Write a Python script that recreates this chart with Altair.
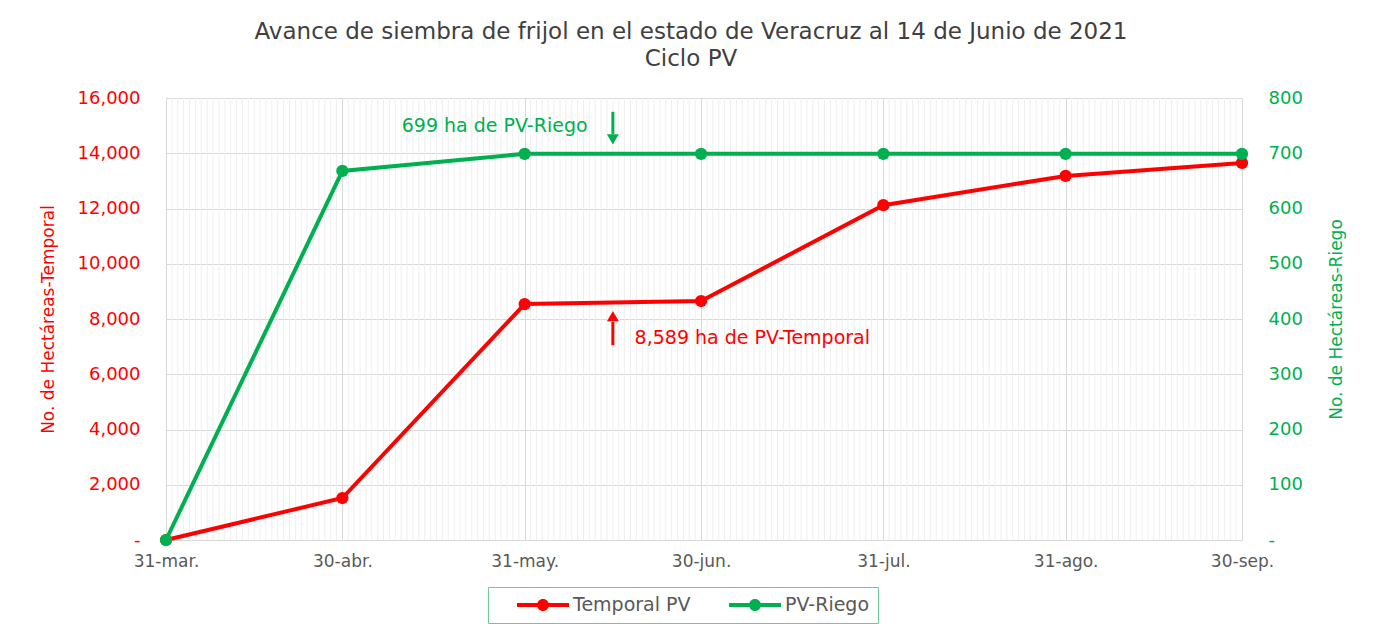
import altair as alt
import pandas as pd

# ---- data ----
fechas = ["2021-03-31", "2021-04-30", "2021-05-31", "2021-06-30",
          "2021-07-31", "2021-08-31", "2021-09-30"]
etiquetas = ["31-mar.", "30-abr.", "31-may.", "30-jun.", "31-jul.", "31-ago.", "30-sep."]
temporal = [0, 1520, 8540, 8650, 12120, 13180, 13650]
riego = [0, 668, 699, 699, 699, 699, 699]
series = ["Temporal PV", "PV-Riego"]
colores = ["#FF0000", "#00B050"]

fecha_flecha = "2021-06-15"
texto_riego = "699 ha de PV-Riego"
texto_temporal = "8,589 ha de PV-Temporal"

FONT = "DejaVu Sans"
GRAY = "#595959"

base = pd.Timestamp(fechas[0])
dias = [(pd.Timestamp(f) - base).days for f in fechas]
flecha = (pd.Timestamp(fecha_flecha) - base).days
todos = [(d - base).days for d in pd.date_range(fechas[0], fechas[-1])]
menores = [d for d in todos if d not in dias]

df_t = pd.DataFrame({"dia": dias, "y": temporal, "serie": series[0]})
df_r = pd.DataFrame({"dia": dias, "y": riego, "serie": series[1]})
df_grid = pd.DataFrame({"dia": menores})

lab_expr = "[" + ",".join(f"'{e}'" for e in etiquetas) + "][indexof([" + ",".join(str(d) for d in dias) + "], datum.value)]"

x_scale = alt.Scale(domain=[dias[0], dias[-1]], nice=False, zero=False)
x_axis = alt.Axis(values=dias, labelExpr=lab_expr, title=None, grid=True,
                  gridColor="#D9D9D9", domainColor="#D9D9D9", ticks=False,
                  labelFont=FONT, labelFontSize=17, labelColor=GRAY,
                  labelPadding=13, labelFlush=False, labelOverlap=False)

left_axis = alt.Axis(values=list(range(0, 16001, 2000)),
                     labelExpr="datum.value == 0 ? '-' : format(datum.value, ',')",
                     title="No. de Hectáreas-Temporal", titleColor="#FF0000",
                     titleFont=FONT, titleFontSize=17, titleFontWeight="normal",
                     titleAngle=270, titleBaseline="middle", titleAlign="center",
                     titleX=-118, titleY=221,
                     labelColor="#FF0000", labelFont=FONT, labelFontSize=18,
                     labelPadding=26, ticks=False, domain=False,
                     grid=True, gridColor="#D9D9D9")
right_axis = alt.Axis(values=list(range(0, 801, 100)),
                      labelExpr="datum.value == 0 ? '-' : format(datum.value, ',')",
                      title="No. de Hectáreas-Riego", titleColor="#00B050",
                      titleFont=FONT, titleFontSize=17, titleFontWeight="normal",
                      titleAngle=270, titleBaseline="middle", titleAlign="center",
                      titleX=94, titleY=221,
                      labelColor="#00B050", labelFont=FONT, labelFontSize=18,
                      labelPadding=26, ticks=False, domain=False, grid=False,
                      orient="right")
left_scale = alt.Scale(domain=[0, 16000], nice=False)
right_scale = alt.Scale(domain=[0, 800], nice=False)


def X(field="dia"):
    return alt.X(f"{field}:Q", scale=x_scale, axis=x_axis)


def YL(field="y"):
    return alt.Y(f"{field}:Q", scale=left_scale, axis=left_axis)


def YR(field="y"):
    return alt.Y(f"{field}:Q", scale=right_scale, axis=right_axis)


legend = alt.Legend(
    title=None, orient="none", legendX=322, legendY=489, direction="horizontal",
    strokeColor="#6FCB98", padding=8, labelFont=FONT, labelFontSize=19,
    labelColor=GRAY, columnPadding=17, labelOffset=20, symbolOffset=37,
    symbolType="M-2.6,-0.2L2.6,-0.2L2.6,0.2L-2.6,0.2Z M0.6,0A0.6,0.6 0 1,1 -0.6,0A0.6,0.6 0 1,1 0.6,0Z",
    symbolSize=400, symbolStrokeWidth=0, symbolOpacity=1)
color_enc = alt.Color("serie:N", scale=alt.Scale(domain=series, range=colores), legend=legend)

grid = alt.Chart(df_grid).mark_rule(color="#EFEFEF", strokeWidth=1).encode(x=X())

line_t = alt.Chart(df_t).mark_line(strokeWidth=4, color=colores[0]).encode(x=X(), y=YL())
pts_t = alt.Chart(df_t).mark_circle(size=150, opacity=1).encode(x=X(), y=YL(), color=color_enc)

line_r = alt.Chart(df_r).mark_line(strokeWidth=4, color=colores[1]).encode(x=X(), y=YR())
pts_r = alt.Chart(df_r).mark_circle(size=150, opacity=1).encode(x=X(), y=YR(), color=color_enc)

# annotations (Temporal, left scale)
ann_t = pd.DataFrame({"dia": [flecha], "y": [7050], "y2": [7900], "tip": [8100],
                      "txt": [texto_temporal], "tx": [flecha + 3.7], "ty": [7330]})
arr_t = alt.Chart(ann_t).mark_rule(color=colores[0], strokeWidth=3).encode(
    x=X(), y=YL(), y2="y2:Q")
tip_t = alt.Chart(ann_t).mark_point(shape="triangle-up", filled=True, color=colores[0],
                                    size=140, opacity=1).encode(x=X(), y=YL("tip"))
txt_t = alt.Chart(ann_t).mark_text(align="left", baseline="middle", color=colores[0],
                                   font=FONT, fontSize=19).encode(
    x=X("tx"), y=YL("ty"), text="txt:N")

# annotations (Riego, right scale)
ann_r = pd.DataFrame({"dia": [flecha], "y": [775], "y2": [735], "tip": [725],
                      "txt": [texto_riego], "tx": [flecha - 4.3], "ty": [750]})
arr_r = alt.Chart(ann_r).mark_rule(color=colores[1], strokeWidth=3).encode(
    x=X(), y=YR(), y2="y2:Q")
tip_r = alt.Chart(ann_r).mark_point(shape="triangle-down", filled=True, color=colores[1],
                                    size=140, opacity=1).encode(x=X(), y=YR("tip"))
txt_r = alt.Chart(ann_r).mark_text(align="right", baseline="middle", color=colores[1],
                                   font=FONT, fontSize=19).encode(
    x=X("tx"), y=YR("ty"), text="txt:N")

left = alt.layer(grid, line_t, pts_t, arr_t, tip_t, txt_t)
right = alt.layer(line_r, pts_r, arr_r, tip_r, txt_r)

chart = alt.layer(left, right).resolve_scale(y="independent").properties(
    width=1076, height=442,
    autosize=alt.AutoSizeParams(type="none"),
    padding={"left": 158, "top": 90, "right": 133, "bottom": 85},
    title=alt.TitleParams(
        ["Avance de siembra de frijol en el estado de Veracruz al 14 de Junio de 2021", "Ciclo PV"],
        anchor="middle", font=FONT, fontSize=23, fontWeight="normal", color="#404040",
        lineHeight=27, offset=18, dx=-13),
).configure_view(stroke="#D9D9D9", strokeWidth=1)

chart.save("out.html", embed_options={"renderer": "svg", "actions": False})
